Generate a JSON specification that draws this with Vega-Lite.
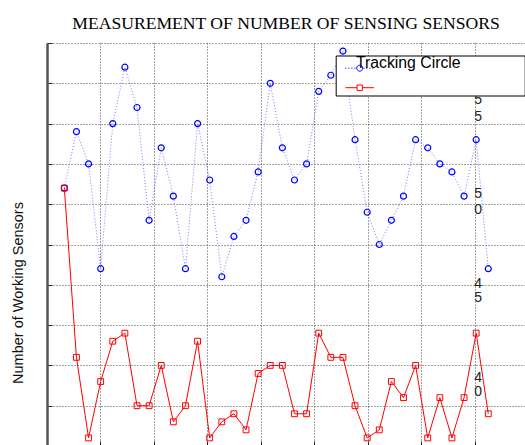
{
  "$schema": "https://vega.github.io/schema/vega-lite/v6.json",
  "width": 478,
  "height": 403,
  "autosize": {"type": "none"},
  "padding": {"left": 47, "top": 43, "right": 0, "bottom": 0},
  "background": "#ffffff",
  "config": {"view": {"stroke": null}, "font": "Liberation Sans"},
  "title": {
    "text": "MEASUREMENT OF NUMBER OF SENSING SENSORS",
    "font": "Liberation Serif",
    "fontSize": 17.6,
    "fontWeight": "normal",
    "color": "#000000",
    "anchor": "middle",
    "frame": "group",
    "baseline": "alphabetic",
    "offset": -4.5
  },
  "data": {
    "values": [
      {"i": 1, "s": "Tracking Circle", "v": 32}, {"i": 2, "s": "Tracking Circle", "v": 39}, {"i": 3, "s": "Tracking Circle", "v": 35}, {"i": 4, "s": "Tracking Circle", "v": 22},
      {"i": 5, "s": "Tracking Circle", "v": 40}, {"i": 6, "s": "Tracking Circle", "v": 47}, {"i": 7, "s": "Tracking Circle", "v": 42}, {"i": 8, "s": "Tracking Circle", "v": 28},
      {"i": 9, "s": "Tracking Circle", "v": 37}, {"i": 10, "s": "Tracking Circle", "v": 31}, {"i": 11, "s": "Tracking Circle", "v": 22}, {"i": 12, "s": "Tracking Circle", "v": 40},
      {"i": 13, "s": "Tracking Circle", "v": 33}, {"i": 14, "s": "Tracking Circle", "v": 21}, {"i": 15, "s": "Tracking Circle", "v": 26}, {"i": 16, "s": "Tracking Circle", "v": 28},
      {"i": 17, "s": "Tracking Circle", "v": 34}, {"i": 18, "s": "Tracking Circle", "v": 45}, {"i": 19, "s": "Tracking Circle", "v": 37}, {"i": 20, "s": "Tracking Circle", "v": 33},
      {"i": 21, "s": "Tracking Circle", "v": 35}, {"i": 22, "s": "Tracking Circle", "v": 44}, {"i": 23, "s": "Tracking Circle", "v": 46}, {"i": 24, "s": "Tracking Circle", "v": 49},
      {"i": 25, "s": "Tracking Circle", "v": 38}, {"i": 26, "s": "Tracking Circle", "v": 29}, {"i": 27, "s": "Tracking Circle", "v": 25}, {"i": 28, "s": "Tracking Circle", "v": 28},
      {"i": 29, "s": "Tracking Circle", "v": 31}, {"i": 30, "s": "Tracking Circle", "v": 38}, {"i": 31, "s": "Tracking Circle", "v": 37}, {"i": 32, "s": "Tracking Circle", "v": 35},
      {"i": 33, "s": "Tracking Circle", "v": 34}, {"i": 34, "s": "Tracking Circle", "v": 31}, {"i": 35, "s": "Tracking Circle", "v": 38}, {"i": 36, "s": "Tracking Circle", "v": 22},
      {"i": 1, "s": "Red", "v": 32}, {"i": 2, "s": "Red", "v": 11}, {"i": 3, "s": "Red", "v": 1}, {"i": 4, "s": "Red", "v": 8},
      {"i": 5, "s": "Red", "v": 13}, {"i": 6, "s": "Red", "v": 14}, {"i": 7, "s": "Red", "v": 5}, {"i": 8, "s": "Red", "v": 5},
      {"i": 9, "s": "Red", "v": 10}, {"i": 10, "s": "Red", "v": 3}, {"i": 11, "s": "Red", "v": 5}, {"i": 12, "s": "Red", "v": 13},
      {"i": 13, "s": "Red", "v": 1}, {"i": 14, "s": "Red", "v": 3}, {"i": 15, "s": "Red", "v": 4}, {"i": 16, "s": "Red", "v": 2},
      {"i": 17, "s": "Red", "v": 9}, {"i": 18, "s": "Red", "v": 10}, {"i": 19, "s": "Red", "v": 10}, {"i": 20, "s": "Red", "v": 4},
      {"i": 21, "s": "Red", "v": 4}, {"i": 22, "s": "Red", "v": 14}, {"i": 23, "s": "Red", "v": 11}, {"i": 24, "s": "Red", "v": 11},
      {"i": 25, "s": "Red", "v": 5}, {"i": 26, "s": "Red", "v": 1}, {"i": 27, "s": "Red", "v": 2}, {"i": 28, "s": "Red", "v": 8},
      {"i": 29, "s": "Red", "v": 6}, {"i": 30, "s": "Red", "v": 10}, {"i": 31, "s": "Red", "v": 1}, {"i": 32, "s": "Red", "v": 6},
      {"i": 33, "s": "Red", "v": 1}, {"i": 34, "s": "Red", "v": 6}, {"i": 35, "s": "Red", "v": 14}, {"i": 36, "s": "Red", "v": 4}
    ]
  },
  "encoding": {
    "x": {
      "field": "i",
      "type": "quantitative",
      "scale": {"domain": [-0.43, 39.03], "nice": false, "zero": false},
      "axis": {
        "values": [3.983, 8.395, 12.808, 17.22, 21.633, 26.046, 30.458, 34.871],
        "labels": false,
        "title": null,
        "domain": false,
        "grid": true,
        "gridDash": [1, 2],
        "gridColor": "#444444",
        "gridOpacity": 1,
        "gridWidth": 1,
        "tickSize": -5,
        "tickColor": "#222222",
        "tickWidth": 1
      }
    },
    "y": {
      "field": "v",
      "type": "quantitative",
      "scale": {"domain": [0, 50], "nice": false, "zero": false},
      "axis": {
        "values": [0, 5, 10, 15, 20, 25, 30, 35, 40, 45, 50],
        "labels": false,
        "title": "Number of Working Sensors",
        "titleFont": "Liberation Sans",
        "titleFontSize": 14.5,
        "titleFontWeight": "normal",
        "titleColor": "#111111",
        "titleX": -24.5,
        "titleY": 249.5,
        "titleAngle": -90,
        "titleBaseline": "alphabetic",
        "titleAlign": "center",
        "domainColor": "#555555",
        "domainWidth": 2.5,
        "grid": true,
        "gridDash": [1, 2],
        "gridColor": "#444444",
        "gridOpacity": 1,
        "gridWidth": 1,
        "tickSize": -5,
        "tickColor": "#222222",
        "tickWidth": 1
      }
    }
  },
  "layer": [
    {
      "transform": [{"filter": "datum.s == 'Tracking Circle'"}],
      "mark": {"type": "line", "stroke": "#5a5aff", "strokeWidth": 1, "strokeDash": [1, 2], "opacity": 0.8}
    },
    {
      "transform": [{"filter": "datum.s == 'Tracking Circle'"}],
      "mark": {"type": "point", "shape": "circle", "size": 36, "filled": false, "stroke": "#0000ff", "strokeWidth": 1.2, "opacity": 1}
    },
    {
      "transform": [{"filter": "datum.s == 'Red'"}],
      "mark": {"type": "line", "stroke": "#ff0000", "strokeWidth": 1}
    },
    {
      "transform": [{"filter": "datum.s == 'Red'"}],
      "mark": {"type": "point", "shape": "square", "size": 34, "filled": false, "stroke": "#ff0000", "strokeWidth": 1, "opacity": 1}
    },
    {
      "mark": {"type": "point", "filled": false, "opacity": 0, "size": 10},
      "encoding": {
        "shape": {
          "field": "s",
          "type": "nominal",
          "scale": {
            "domain": ["Tracking Circle", "Red"],
            "range": [
              "M-1.43,0h0.1M-1.13,0h0.1M-0.83,0h0.1M-0.53,0h0.1M0.37,0h0.1M0.67,0h0.1M0.97,0h0.1M1.27,0h0.1M0.3,0A0.3,0.3,0,1,1,-0.3,0A0.3,0.3,0,1,1,0.3,0Z",
              "M-1.43,0H-0.27M0.27,0H1.43M-0.27,-0.27H0.27V0.27H-0.27Z"
            ]
          },
          "legend": {
            "orient": "none",
            "legendX": 288.7,
            "legendY": 12.5,
            "title": null,
            "symbolSize": 400,
            "symbolStrokeWidth": 1,
            "symbolOffset": 11.3,
            "symbolOpacity": 1,
            "labelOffset": -14.3,
            "labelFont": "Liberation Sans",
            "labelFontSize": 15.8,
            "labelColor": "#000000",
            "labelBaseline": "alphabetic",
            "labelLimit": 400,
            "labelExpr": "datum.value == 'Tracking Circle' ? 'Tracking Circle\u00a0\u00a0\u00a0\u00a0\u00a0\u00a0\u00a0\u00a0\u00a0\u00a0\u00a0\u00a0\u00a0\u00a0\u200b' : ''",
            "padding": 2.2,
            "rowPadding": 0.5,
            "strokeColor": "#000000",
            "fillColor": "#ffffff",
            "encode": {
              "legend": {"update": {"strokeWidth": {"value": 1.6}}},
              "labels": {"update": {"dy": {"value": 2.3}}}
            }
          }
        },
        "color": {
          "field": "s",
          "type": "nominal",
          "scale": {"domain": ["Tracking Circle", "Red"], "range": ["#0000ff", "#ff0000"]},
          "legend": {
            "orient": "none",
            "legendX": 288.7,
            "legendY": 12.5,
            "title": null,
            "symbolSize": 400,
            "symbolStrokeWidth": 1,
            "symbolOffset": 11.3,
            "symbolOpacity": 1,
            "labelOffset": -14.3,
            "labelFont": "Liberation Sans",
            "labelFontSize": 15.8,
            "labelColor": "#000000",
            "labelBaseline": "alphabetic",
            "labelLimit": 400,
            "labelExpr": "datum.value == 'Tracking Circle' ? 'Tracking Circle\u00a0\u00a0\u00a0\u00a0\u00a0\u00a0\u00a0\u00a0\u00a0\u00a0\u00a0\u00a0\u00a0\u00a0\u200b' : ''",
            "padding": 2.2,
            "rowPadding": 0.5,
            "strokeColor": "#000000",
            "fillColor": "#ffffff",
            "encode": {
              "legend": {"update": {"strokeWidth": {"value": 1.6}}},
              "labels": {"update": {"dy": {"value": 2.3}}}
            }
          }
        }
      }
    },
    {
      "data": {
        "values": [
          {"i": 35.17, "v": 42.93, "t": "5"},
          {"i": 35.17, "v": 40.86, "t": "5"},
          {"i": 35.17, "v": 31.23, "t": "5"},
          {"i": 35.17, "v": 29.28, "t": "0"},
          {"i": 35.17, "v": 20.1, "t": "4"},
          {"i": 35.17, "v": 18.33, "t": "5"},
          {"i": 35.17, "v": 8.4, "t": "4"},
          {"i": 35.17, "v": 6.74, "t": "0"}
        ]
      },
      "mark": {"type": "text", "font": "Liberation Sans", "fontSize": 14, "color": "#222222", "align": "center", "baseline": "middle"},
      "encoding": {"text": {"field": "t", "type": "nominal"}}
    }
  ]
}
